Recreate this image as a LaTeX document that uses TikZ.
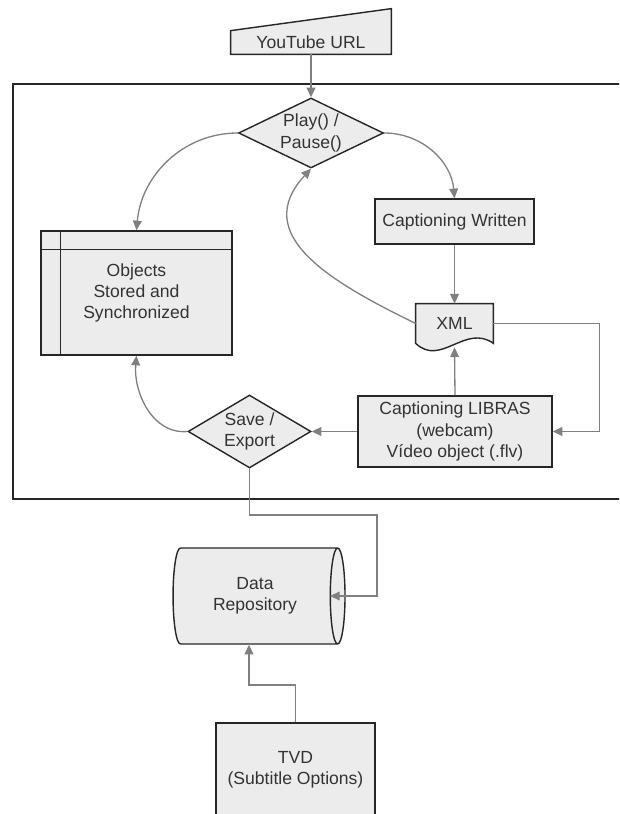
\documentclass[tikz,border=0pt]{standalone}
\usepackage{fontspec}
\setmainfont{Liberation Sans}
\usepackage{tikz}
\usetikzlibrary{arrows.meta}
\usetikzlibrary{shapes.geometric}
\usetikzlibrary{calc}
\usetikzlibrary{backgrounds}
\definecolor{boxfill}{HTML}{ECECEC}
\definecolor{boxline}{HTML}{262626}
\definecolor{flowline}{HTML}{808080}
\definecolor{textgray}{HTML}{333333}

\begin{document}
\begin{tikzpicture}[x=0.02cm,y=0.02cm,
  box/.style={draw=boxline,fill=boxfill,line width=0.8pt,text=textgray,align=center,inner sep=0pt},
  decision/.style={box,diamond},
  flow/.style={draw=flowline,line width=0.75pt,-{Triangle[length=5.5pt,width=5pt]}}]
\useasboundingbox (0,0) rectangle (619,814);
\clip (0,0) rectangle (619,814);
\draw[black!85,line width=1pt] (13,315) rectangle (640,730);
\node[text=textgray,minimum width=3.2cm,minimum height=0.46cm,inner sep=0pt] (yt) at (311,771.5) {YouTube URL};
\node[decision,aspect=2.07,minimum width=2.9cm,minimum height=1.4cm] (play) at (311,681) {Play() /\\Pause()};
\node[box,minimum width=3.82cm,minimum height=2.48cm] (obj) at (136.5,521) {Objects\\Stored and\\Synchronized};
\draw[boxline,line width=0.8pt] ($(obj.north west)+(20,0)$) -- ($(obj.south west)+(20,0)$);
\draw[boxline,line width=0.8pt] ($(obj.north west)+(0,-19)$) -- ($(obj.north east)+(0,-19)$);
\node[box,minimum width=3.18cm,minimum height=0.9cm] (cw) at (454.5,592.5) {Captioning Written};
\node[text=textgray,minimum width=1.54cm,minimum height=0.78cm,inner sep=0pt] (xml) at (454.5,490.5) {XML};
\node[box,minimum width=3.88cm,minimum height=1.42cm] (lib) at (455,382.5) {Captioning LIBRAS\\(webcam)\\Vídeo object (.flv)};
\node[decision,aspect=1.68,minimum width=2.46cm,minimum height=1.46cm] (save) at (249.5,382.5) {Save /\\Export};
\node[box,cylinder,aspect=0.4,minimum width=1.92cm,minimum height=3.44cm] (rep) at (255,218) {Data\\Repository};
\node[box,minimum width=3.18cm,minimum height=1.88cm] (tvd) at (295.5,44) {TVD\\(Subtitle Options)};
\begin{scope}[on background layer]
\draw[box] (yt.south west) -- (yt.south east) -- ($(yt.north east)+(0,22)$) -- (yt.north west) -- cycle;
\draw[box] (xml.south east) -- (xml.north east) -- (xml.north west) -- (xml.south west) .. controls +(25,-24) and +(-28,20) .. (xml.south east) -- cycle;
\end{scope}
\draw[flow] (yt.south) -- (play.north);
\draw[flow] (play.west) to[out=180,in=85] (obj.north);
\draw[flow] (play.east) to[out=0,in=95] (cw.north);
\draw[flow] (cw.south) -- (xml.north);
\draw[flow] (xml.west) .. controls +(-86,42) and +(-61,-66) .. (play.south);
\draw[flow] (lib.north) -- ([yshift=-0.08cm]xml.south);
\draw[flow] (xml.east) -- ++(106,0) |- (lib.east);
\draw[flow] (lib.west) -- (save.east);
\draw[flow] (save.west) to[out=185,in=265] (obj.south);
\coordinate (down) at (377,299);
\draw[flow] (save.south) |- (down) |- ($(rep.center)+(75,0)$);
\coordinate (up) at (249,129);
\draw[flow] (tvd.north) |- (up) -- (up |- rep.south);
\end{tikzpicture}
\end{document}
